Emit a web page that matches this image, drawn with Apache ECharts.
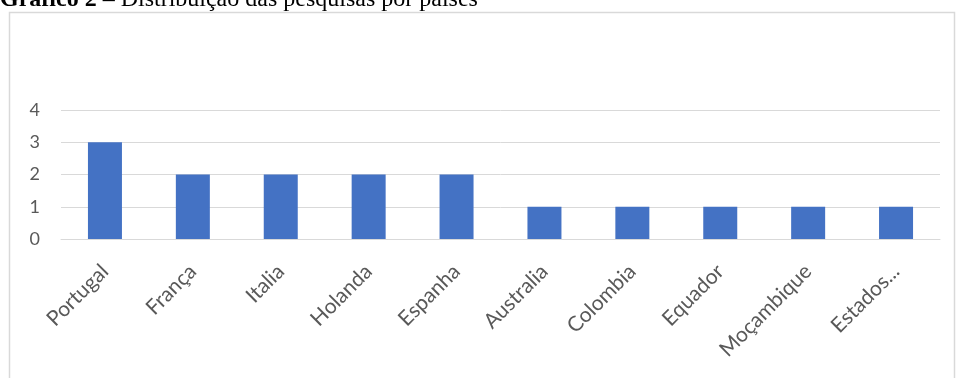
<!DOCTYPE html>
<html>
<head>
<meta charset="utf-8">
<script src="https://cdn.jsdelivr.net/npm/echarts@6/dist/echarts.min.js"></script>
<style>
  html, body { margin: 0; padding: 0; background: #fff; }
  #chart { width: 957px; height: 378px; }
</style>
</head>
<body>
<div id="chart"></div>
<script>
// países e número de pesquisas
const paises = ['Portugal', 'França', 'Italia', 'Holanda', 'Espanha', 'Australia', 'Colombia', 'Equador', 'Moçambique', 'Estados...'];
const pesquisas = [3, 2, 2, 2, 2, 1, 1, 1, 1, 1];
const tituloNum = 'Gráfico 2';
const tituloTexto = ' – Distribuição das pesquisas por países';

const chart = echarts.init(document.getElementById('chart'), null, { renderer: 'canvas' });

const option = {
  animation: false,
  backgroundColor: '#fff',
  graphic: [
    // moldura do gráfico
    {
      type: 'rect',
      shape: { x: 9.5, y: 12.5, width: 945, height: 400 },
      style: { fill: '#fff', stroke: '#d9d9d9', lineWidth: 1.5 },
      z: -10
    },
    // título (cortado no topo)
    {
      type: 'text',
      left: 0,
      top: -12,
      style: {
        text: '{b|' + tituloNum + '}{n|' + tituloTexto + '}',
        rich: {
          b: { fontFamily: 'Liberation Serif', fontWeight: 'bold', fontSize: 24, fill: '#000' },
          n: { fontFamily: 'Liberation Serif', fontSize: 24, fill: '#000' }
        }
      }
    }
  ],
  grid: { left: 61, right: 17, top: 110, bottom: 139 },
  xAxis: {
    type: 'category',
    data: paises,
    axisLine: { lineStyle: { color: '#d9d9d9', width: 1 } },
    axisTick: { show: false },
    axisLabel: {
      interval: 0,
      rotate: 45,
      margin: 29,
      color: '#595959',
      fontFamily: 'Lato',
      fontSize: 21
    }
  },
  yAxis: {
    type: 'value',
    min: 0,
    max: 4,
    interval: 1,
    axisLine: { show: false },
    axisTick: { show: false },
    axisLabel: {
      margin: 21,
      color: '#595959',
      fontFamily: 'Lato',
      fontSize: 18
    },
    splitLine: { lineStyle: { color: '#d9d9d9', width: 1 } }
  },
  series: [{
    type: 'bar',
    data: pesquisas,
    barWidth: 34,
    itemStyle: { color: '#4472c4' }
  }]
};

chart.setOption(option);
</script>
</body>
</html>
